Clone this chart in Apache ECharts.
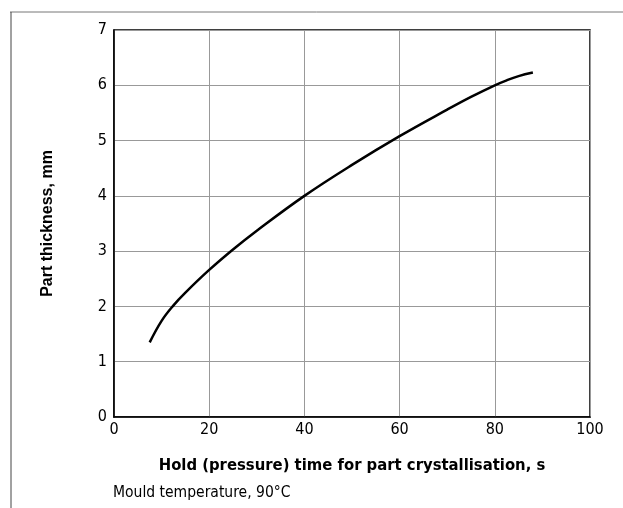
<!DOCTYPE html>
<html><head><meta charset="utf-8">
<script src="https://cdn.jsdelivr.net/npm/echarts@6/dist/echarts.min.js"></script>
<style>html,body{margin:0;padding:0;background:#fff}#c{width:623px;height:508px}</style>
</head><body><div id="c"></div>
<script>
const xValues = [7.5, 10, 12.5, 15, 20, 25, 30, 40, 50, 60, 70, 75, 80, 82.5, 85, 88];
const yValues = [1.35, 1.74, 2.02, 2.25, 2.66, 3.03, 3.37, 4.0, 4.56, 5.08, 5.56, 5.79, 6.0, 6.09, 6.165, 6.23];
const xTitle = 'Hold (pressure) time for part crystallisation, s';
const yTitle = 'Part thickness, mm';
const footnote = 'Mould temperature, 90°C';

const condensed = '"DejaVu Sans Condensed", "Liberation Sans Narrow", sans-serif';
const chart = echarts.init(document.getElementById('c'));
chart.setOption({
  animation: false,
  backgroundColor: '#fff',
  grid: { left: 114, right: 33, top: 30, bottom: 91, show: true, borderColor: '#000', borderWidth: 1.5, backgroundColor: 'transparent' },
  xAxis: {
    type: 'value', min: 0, max: 100, interval: 20,
    name: xTitle, nameLocation: 'middle', nameGap: 40,
    nameTextStyle: { fontFamily: condensed, fontWeight: 'bold', fontSize: 16.5, color: '#000' },
    axisLine: { show: true, lineStyle: { color: '#000', width: 1.5 } },
    axisTick: { show: false },
    axisLabel: { fontFamily: condensed, fontSize: 16, color: '#000', margin: 5 },
    splitLine: { show: true, lineStyle: { color: '#999', width: 1 } }
  },
  yAxis: {
    type: 'value', min: 0, max: 7, interval: 1,
    name: yTitle, nameLocation: 'middle', nameGap: 58,
    nameTextStyle: { fontFamily: '"Liberation Sans", Arial, sans-serif', fontWeight: 'bold', fontSize: 16, color: '#000' },
    axisLine: { show: true, lineStyle: { color: '#000', width: 1.5 } },
    axisTick: { show: false },
    axisLabel: { fontFamily: condensed, fontSize: 16, color: '#000', margin: 7 },
    splitLine: { show: true, lineStyle: { color: '#999', width: 1 } }
  },
  graphic: [
    { type: 'line', shape: { x1: 10, y1: 12, x2: 623, y2: 12 }, style: { stroke: '#777', lineWidth: 1 } },
    { type: 'line', shape: { x1: 11, y1: 12, x2: 11, y2: 508 }, style: { stroke: '#444', lineWidth: 1 } },
    { type: 'text', left: 113, top: 485, style: { text: footnote, font: '15.5px ' + condensed, fill: '#000' } }
  ],
  series: [{
    type: 'line', smooth: 0.4, symbol: 'none',
    lineStyle: { color: '#000', width: 2.5 },
    data: xValues.map((x, i) => [x, yValues[i]])
  }]
});
</script></body></html>
